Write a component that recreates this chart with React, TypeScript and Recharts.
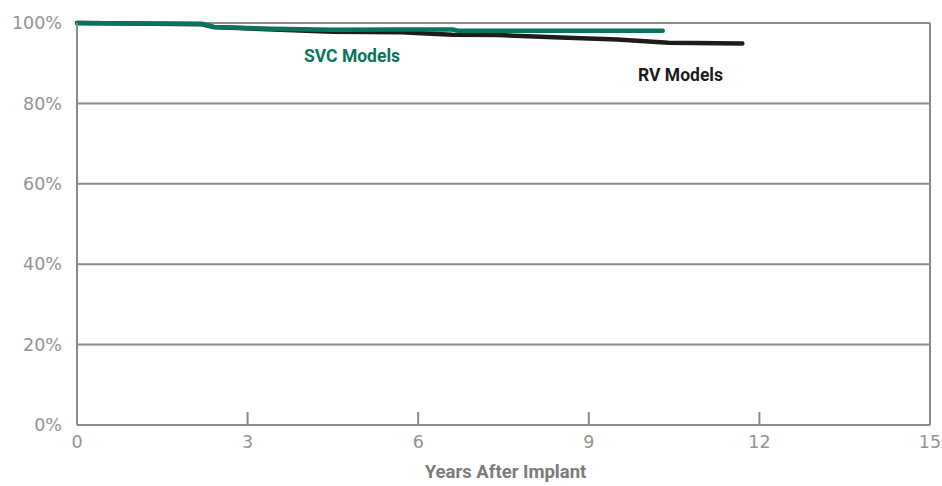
import { LineChart, Line, XAxis, YAxis, CartesianGrid, ReferenceLine } from 'recharts';

// years after implant / survival %
const svcYears = [0, 1, 2.2, 2.4, 3.4, 4.5, 5.7, 6.6, 6.7, 10.3];
const svcSurvival = [100, 99.9, 99.8, 99.0, 98.6, 98.3, 98.4, 98.4, 98.1, 98.1];

const rvYears = [0, 1, 2.2, 2.4, 4.5, 5.7, 6.6, 7.4, 8.5, 9.5, 10.4, 11.7];
const rvSurvival = [100, 99.9, 99.7, 99.0, 97.8, 97.7, 97.1, 97.0, 96.4, 95.9, 95.1, 94.9];

const xTicks = [0, 3, 6, 9, 12, 15];
const yTicks = [0, 20, 40, 60, 80, 100];

const svcData = svcYears.map((t, i) => ({ t, v: svcSurvival[i] }));
const rvData = rvYears.map((t, i) => ({ t, v: rvSurvival[i] }));

const GRAY = '#8a8a8a';
const TICK_GRAY = '#939393';
const TEAL = '#08735e';
const DARK = '#1e1b1b';
const LIGHT_FONT = '"DejaVu Sans", sans-serif';
const BOLD_FONT = 'Roboto, "Liberation Sans", sans-serif';

const AXIS_Y = 425;

function XTick(props: any) {
  const { x, payload } = props;
  return (
    <g>
      <line x1={x} x2={x} y1={AXIS_Y - 13} y2={AXIS_Y} stroke={GRAY} strokeWidth={2} />
      <text
        x={x}
        y={AXIS_Y + 23}
        textAnchor="middle"
        fill={TICK_GRAY}
        fontSize={17.5}
        fontFamily={LIGHT_FONT}
      >
        {payload.value}
      </text>
    </g>
  );
}

export default function App() {
  return (
    <div style={{ position: 'absolute', left: 0, top: 0, width: 942, height: 486, background: '#fff' }}>
      <LineChart width={942} height={486} margin={{ top: 23, right: 12, left: 0, bottom: 31 }}>
        <CartesianGrid vertical={false} stroke={GRAY} strokeWidth={2} />
        <XAxis
          type="number"
          dataKey="t"
          domain={[0, 15]}
          ticks={xTicks}
          interval={0}
          height={30}
          axisLine={{ stroke: GRAY, strokeWidth: 2 }}
          tickLine={false}
          tickSize={0}
          tickMargin={0}
          tick={<XTick />}
        />
        <YAxis
          type="number"
          domain={[0, 100]}
          ticks={yTicks}
          interval={0}
          width={77}
          axisLine={{ stroke: GRAY, strokeWidth: 2 }}
          tickLine={false}
          tickSize={0}
          tickMargin={15}
          tickFormatter={(v: number) => `${v}%`}
          tick={{ fill: TICK_GRAY, fontSize: 17.5, fontFamily: LIGHT_FONT }}
        />
        <ReferenceLine x={15} stroke={GRAY} strokeWidth={2} />
        <Line
          data={rvData}
          dataKey="v"
          type="linear"
          stroke={DARK}
          strokeWidth={4.5}
          strokeLinecap="round"
          dot={false}
          isAnimationActive={false}
        />
        <Line
          data={svcData}
          dataKey="v"
          type="linear"
          stroke={TEAL}
          strokeWidth={4.5}
          strokeLinecap="round"
          dot={false}
          isAnimationActive={false}
        />
      </LineChart>
      <div
        style={{
          position: 'absolute', left: 304, top: 46, color: TEAL, fontFamily: BOLD_FONT,
          fontWeight: 700, fontSize: 17.5, whiteSpace: 'nowrap',
        }}
      >
        SVC Models
      </div>
      <div
        style={{
          position: 'absolute', left: 638, top: 65, color: DARK, fontFamily: BOLD_FONT,
          fontWeight: 700, fontSize: 17.5, whiteSpace: 'nowrap',
        }}
      >
        RV Models
      </div>
      <div
        style={{
          position: 'absolute', left: 0, width: 1011, top: 461, textAlign: 'center', color: '#7b7b7b',
          fontFamily: BOLD_FONT, fontWeight: 700, fontSize: 18.5, whiteSpace: 'nowrap',
        }}
      >
        Years After Implant
      </div>
    </div>
  );
}
